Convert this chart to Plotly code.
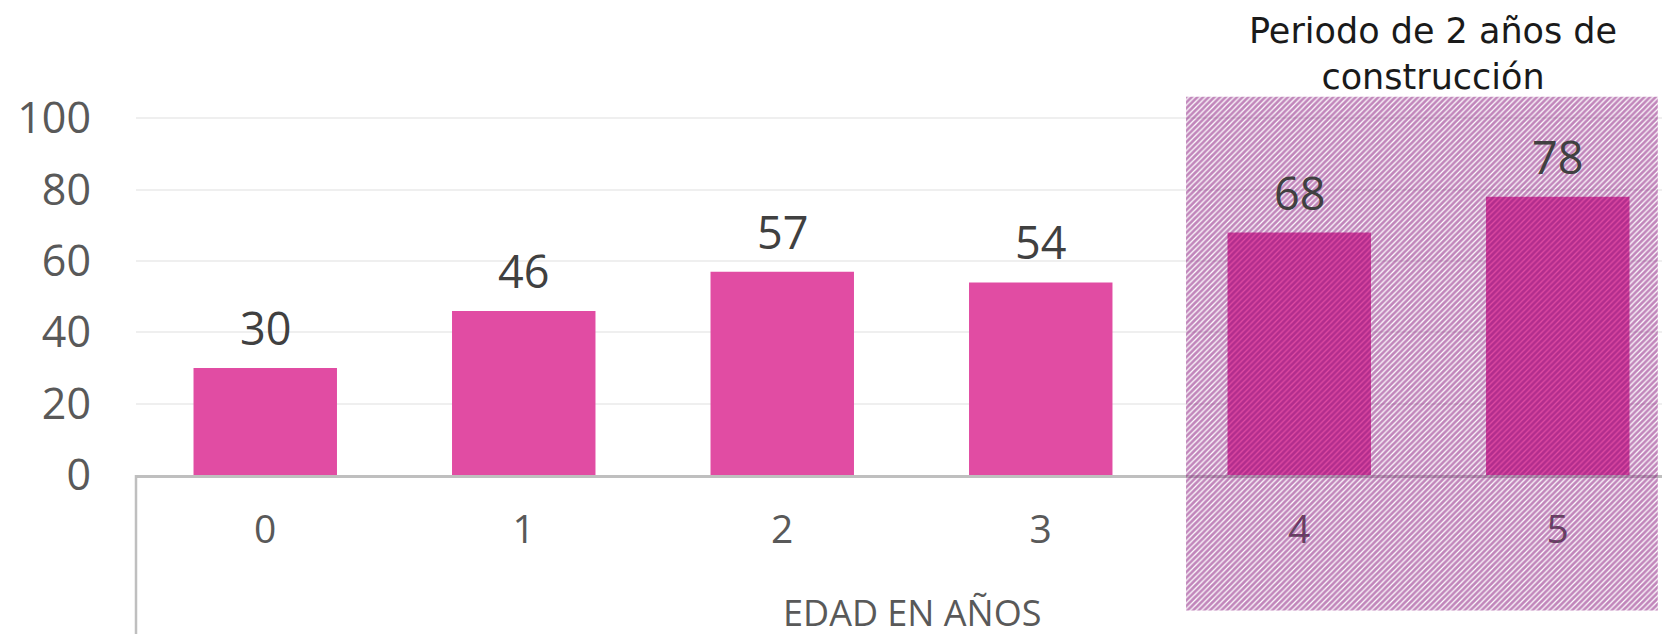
import plotly.graph_objects as go

# ---- data ----
categories = ["0", "1", "2", "3", "4", "5"]
values = [30, 46, 57, 54, 68, 78]
y_ticks = [0, 20, 40, 60, 80, 100]
x_title = "EDAD EN AÑOS"
period_title = "Periodo de 2 años de<br>construcción"
period_span = [3.562, 5.387]      # category units covered by the hatched box
period_y = [-38.0, 106.1]         # value units covered by the hatched box

# ---- geometry (page is rendered with an 8px body offset) ----
W, H = 1670, 634
OFF = 8
L, T = 136 - OFF, 97 - OFF
B = H - (475 - OFF)              # bottom margin so that y=0 lands on the reference axis
cat_px = 258.5                   # pixels per category
x_max = -0.5 + (W - L) / cat_px
y_max = 106
px_per_y = (H - T - B) / y_max

bar_color = "#E14CA3"
hatch_color = "#840E78"
axis_color = "#BFBFBF"
tick_color = "#595959"

fig = go.Figure()
fig.add_trace(go.Bar(x=categories, y=values, marker=dict(color=bar_color, line=dict(width=0)),
                     xaxis="x", yaxis="y", hoverinfo="skip"))

# hatched highlight on an overlay subplot covering the whole page, in matching units
hx0, hx1 = period_span
hy0, hy1 = period_y
fig.add_trace(go.Scatter(
    x=[hx0, hx1, hx1, hx0, hx0], y=[hy0, hy0, hy1, hy1, hy0],
    mode="lines", line=dict(width=0), fill="toself", fillcolor="rgba(0,0,0,0)",
    fillpattern=dict(shape="/", fgcolor=hatch_color, bgcolor="rgba(0,0,0,0)", size=4, solidity=0.7),
    xaxis="x2", yaxis="y2", hoverinfo="skip", showlegend=False))

annotations = []
for c, v in zip(categories, values):
    annotations.append(dict(x=c, y=v, xref="x", yref="y", text=str(v), showarrow=False,
                            yanchor="bottom", yshift=8,
                            font=dict(family="Open Sans", size=45, color="#404040")))
annotations.append(dict(x=2.5, xref="x", y=1 - (612 - OFF) / H, yref="paper", text=x_title,
                        showarrow=False, xanchor="center", yanchor="middle",
                        font=dict(family="Open Sans", size=36, color=tick_color)))
annotations.append(dict(x=(1433 - OFF) / W, xref="paper", y=1 - (54 - OFF) / H, yref="paper",
                        text=period_title, showarrow=False, xanchor="center", yanchor="middle",
                        font=dict(family="DejaVu Sans", size=35, color="#1A1A1A")))

fig.update_layout(
    width=W, height=H,
    margin=dict(l=0, r=0, t=0, b=0, autoexpand=False),
    paper_bgcolor="white", plot_bgcolor="rgba(0,0,0,0)",
    showlegend=False, bargap=0.445,
    xaxis=dict(domain=[L / W, 1], range=[-0.5, x_max], type="category", anchor="y", automargin=False,
               showline=True, linecolor=axis_color, linewidth=2.5, showgrid=False, ticks="",
               ticklabelstandoff=18, tickfont=dict(family="Open Sans", size=39, color=tick_color)),
    yaxis=dict(domain=[B / H, 1 - T / H], range=[0, y_max], anchor="x", automargin=False,
               tickvals=y_ticks, showgrid=True, gridcolor="#EFEFEF", gridwidth=1.5,
               zeroline=False, showline=False, ticks="", ticklabelstandoff=44,
               tickfont=dict(family="Open Sans", size=43, color=tick_color)),
    xaxis2=dict(domain=[0, 1], range=[-0.5 - L / cat_px, x_max], anchor="y2", automargin=False,
                showgrid=False, zeroline=False, showline=False, showticklabels=False, ticks=""),
    yaxis2=dict(domain=[0, 1], range=[-B / px_per_y, y_max + T / px_per_y], anchor="x2", automargin=False,
                showgrid=False, zeroline=False, showline=False, showticklabels=False, ticks=""),
    annotations=annotations,
    shapes=[dict(type="line", xref="paper", yref="paper", x0=L / W, x1=L / W, y0=0, y1=B / H,
                 line=dict(color=axis_color, width=2.5))],
)

fig.write_html("out.html")
